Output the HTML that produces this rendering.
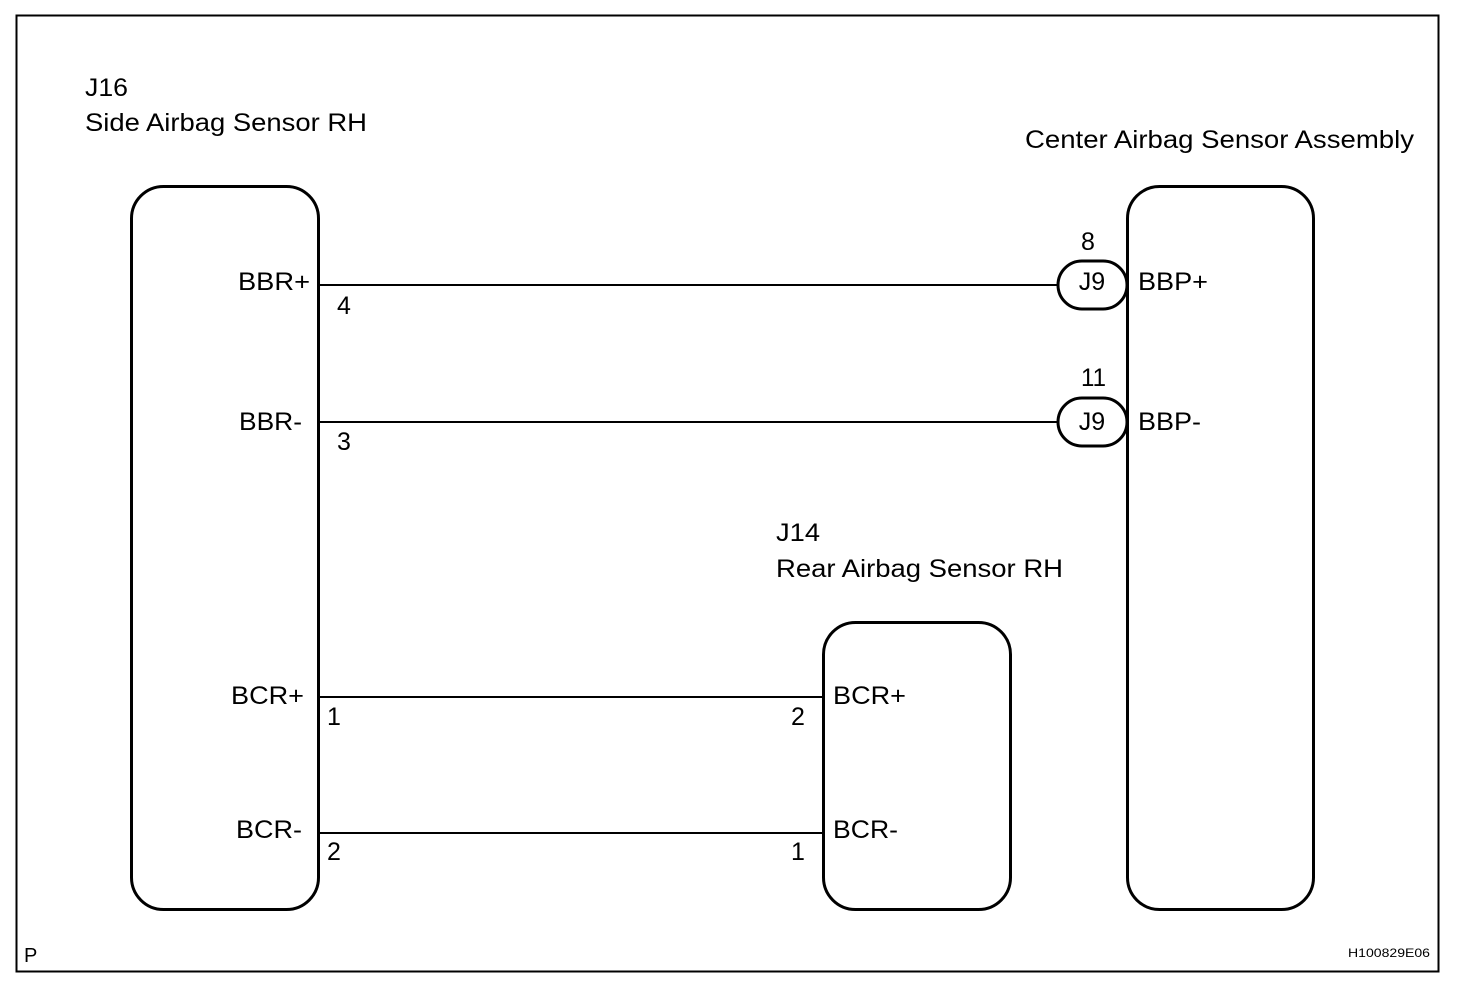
<!DOCTYPE html>
<html><head><style>
html,body{margin:0;padding:0;background:#fff;}
svg{display:block;}
text{font-family:"Liberation Sans",Arial,sans-serif;fill:#000;}
</style></head><body>
<svg width="1472" height="988" viewBox="0 0 1472 988" xmlns="http://www.w3.org/2000/svg">
<rect x="16.5" y="15.5" width="1422" height="956" fill="none" stroke="#000" stroke-width="2"/>
<g fill="none" stroke="#000" stroke-width="3">
<rect x="131.5" y="186.5" width="187" height="723" rx="32"/>
<rect x="1127.5" y="186.5" width="186" height="723" rx="32"/>
<rect x="823.5" y="622.5" width="187" height="287" rx="32"/>
<rect x="1058" y="261" width="69" height="48" rx="24"/>
<rect x="1058" y="398" width="69" height="48" rx="24"/>
</g>
<g stroke="#000" stroke-width="2">
<line x1="318" y1="285" x2="1058" y2="285"/>
<line x1="318" y1="422" x2="1058" y2="422"/>
<line x1="318" y1="697" x2="823" y2="697"/>
<line x1="318" y1="833" x2="823" y2="833"/>
</g>
<g font-size="25">
<text x="85" y="96" textLength="43" lengthAdjust="spacingAndGlyphs">J16</text>
<text x="85" y="131" textLength="282" lengthAdjust="spacingAndGlyphs">Side Airbag Sensor RH</text>
<text x="1025" y="148" textLength="389" lengthAdjust="spacingAndGlyphs">Center Airbag Sensor Assembly</text>
<text x="776" y="541" textLength="44" lengthAdjust="spacingAndGlyphs">J14</text>
<text x="776" y="577" textLength="287" lengthAdjust="spacingAndGlyphs">Rear Airbag Sensor RH</text>
<text x="238" y="290" textLength="72" lengthAdjust="spacingAndGlyphs">BBR+</text>
<text x="239" y="430" textLength="63" lengthAdjust="spacingAndGlyphs">BBR-</text>
<text x="231" y="704" textLength="73" lengthAdjust="spacingAndGlyphs">BCR+</text>
<text x="236" y="838" textLength="66" lengthAdjust="spacingAndGlyphs">BCR-</text>
<text x="337" y="314">4</text>
<text x="337" y="450">3</text>
<text x="327" y="725">1</text>
<text x="327" y="860">2</text>
<text x="791" y="725">2</text>
<text x="791" y="860">1</text>
<text x="833" y="704" textLength="73" lengthAdjust="spacingAndGlyphs">BCR+</text>
<text x="833" y="838" textLength="65" lengthAdjust="spacingAndGlyphs">BCR-</text>
<text x="1138" y="290" textLength="70" lengthAdjust="spacingAndGlyphs">BBP+</text>
<text x="1138" y="430" textLength="63" lengthAdjust="spacingAndGlyphs">BBP-</text>
<text x="1088" y="250" text-anchor="middle">8</text>
<text x="1081" y="386" textLength="25" lengthAdjust="spacingAndGlyphs">11</text>
<text x="1092" y="290" text-anchor="middle">J9</text>
<text x="1092" y="430" text-anchor="middle">J9</text>
<text x="24" y="962" font-size="20">P</text>
</g>
<text x="1348" y="957" font-size="12" textLength="82" lengthAdjust="spacingAndGlyphs">H100829E06</text>
</svg>
</body></html>
